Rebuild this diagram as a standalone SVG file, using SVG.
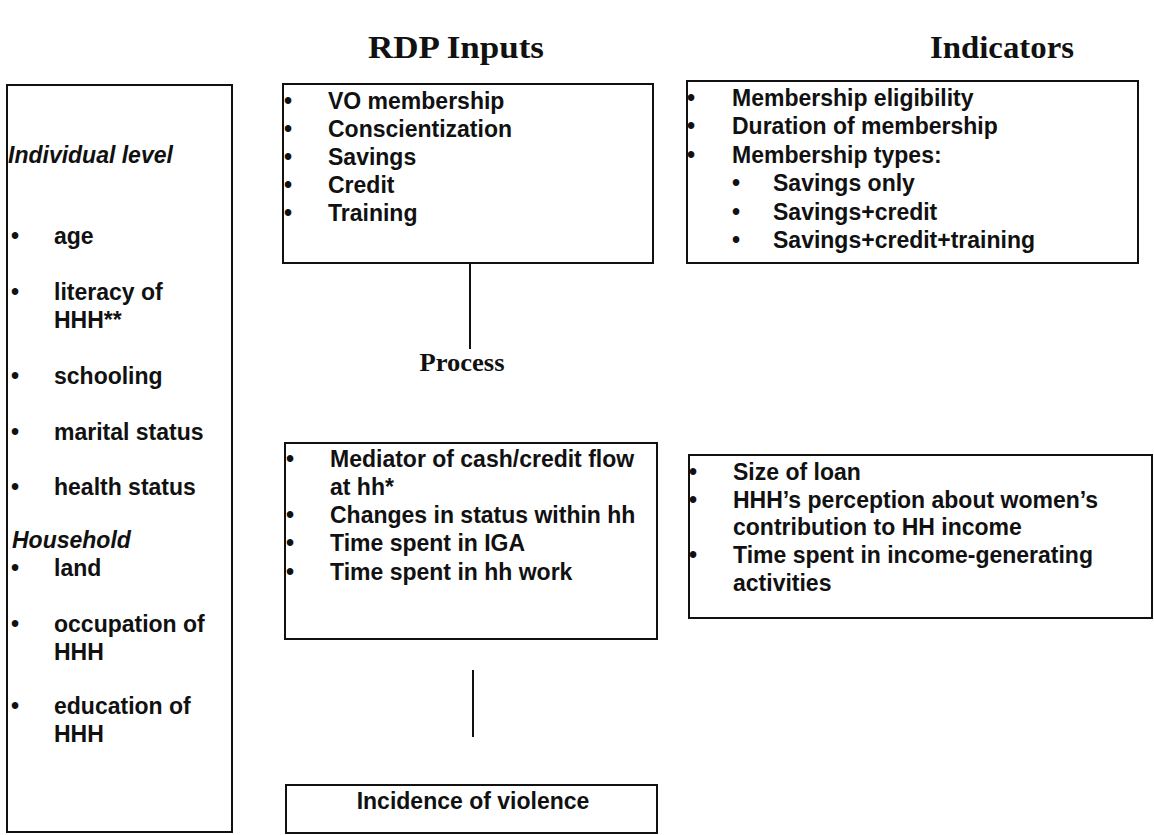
<svg xmlns="http://www.w3.org/2000/svg" width="1154" height="835" viewBox="0 0 1154 835">
<style>
.box{fill:#fff;stroke:#111;stroke-width:2}
.t{font-family:"Liberation Sans",Arial,sans-serif;font-weight:bold;font-size:23px;fill:#111}
.i{font-style:italic}
.title{font-family:"Liberation Serif","Times New Roman",serif;font-weight:bold;font-size:31px;fill:#111}
.proc{font-family:"Liberation Serif","Times New Roman",serif;font-weight:bold;font-size:25px;fill:#111}
.conn{stroke:#111;stroke-width:2;fill:none}
</style>
<rect width="1154" height="835" fill="#fff"/>
<g id="titles">
<text class="title" x="456" y="58" text-anchor="middle" textLength="176" lengthAdjust="spacingAndGlyphs">RDP  Inputs</text>
<text class="title" x="1002" y="58" text-anchor="middle" textLength="144" lengthAdjust="spacingAndGlyphs">Indicators</text>
</g>
<g id="connectors">
<line class="conn" x1="470" y1="264" x2="470" y2="349"/>
<line class="conn" x1="473" y1="670" x2="473" y2="737"/>
</g>
<g id="process-label">
<text class="proc" x="462" y="371" text-anchor="middle" textLength="85" lengthAdjust="spacingAndGlyphs">Process</text>
</g>
<g id="node-background">
<rect class="box" x="7" y="85" width="225" height="747"/>
<text class="t i" x="8" y="163">Individual level</text>
<text class="t" x="11" y="244">•</text><text class="t" x="54" y="244">age</text>
<text class="t" x="11" y="300">•</text><text class="t" x="54" y="300">literacy of</text>
<text class="t" x="54" y="328">HHH**</text>
<text class="t" x="11" y="384">•</text><text class="t" x="54" y="384">schooling</text>
<text class="t" x="11" y="440">•</text><text class="t" x="54" y="440">marital status</text>
<text class="t" x="11" y="495">•</text><text class="t" x="54" y="495">health status</text>
<text class="t i" x="12" y="548">Household</text>
<text class="t" x="11" y="576">•</text><text class="t" x="54" y="576">land</text>
<text class="t" x="11" y="632">•</text><text class="t" x="54" y="632">occupation of</text>
<text class="t" x="54" y="660">HHH</text>
<text class="t" x="11" y="714">•</text><text class="t" x="54" y="714">education of</text>
<text class="t" x="54" y="742">HHH</text>
</g>
<g id="node-inputs">
<rect class="box" x="283" y="84" width="370" height="179"/>
<text class="t" x="284" y="109">•</text><text class="t" x="328" y="109">VO membership</text>
<text class="t" x="284" y="137">•</text><text class="t" x="328" y="137">Conscientization</text>
<text class="t" x="284" y="165">•</text><text class="t" x="328" y="165">Savings</text>
<text class="t" x="284" y="193">•</text><text class="t" x="328" y="193">Credit</text>
<text class="t" x="284" y="221">•</text><text class="t" x="328" y="221">Training</text>
</g>
<g id="node-input-indicators">
<rect class="box" x="687" y="81" width="451" height="182"/>
<text class="t" x="687" y="106">•</text><text class="t" x="732" y="106">Membership eligibility</text>
<text class="t" x="687" y="134">•</text><text class="t" x="732" y="134">Duration of membership</text>
<text class="t" x="687" y="163">•</text><text class="t" x="732" y="163">Membership types:</text>
<text class="t" x="732" y="191">•</text><text class="t" x="773" y="191">Savings only</text>
<text class="t" x="732" y="220">•</text><text class="t" x="773" y="220">Savings+credit</text>
<text class="t" x="732" y="248">•</text><text class="t" x="773" y="248">Savings+credit+training</text>
</g>
<g id="node-process">
<rect class="box" x="285" y="443" width="372" height="196"/>
<text class="t" x="286" y="467">•</text><text class="t" x="330" y="467">Mediator of cash/credit flow</text>
<text class="t" x="330" y="495">at hh*</text>
<text class="t" x="286" y="523">•</text><text class="t" x="330" y="523">Changes in status within hh</text>
<text class="t" x="286" y="551">•</text><text class="t" x="330" y="551">Time spent in IGA</text>
<text class="t" x="286" y="580">•</text><text class="t" x="330" y="580">Time spent in hh work</text>
</g>
<g id="node-process-indicators">
<rect class="box" x="689" y="455" width="463" height="163"/>
<text class="t" x="689" y="480">•</text><text class="t" x="733" y="480">Size of loan</text>
<text class="t" x="689" y="508">•</text><text class="t" x="733" y="508">HHH’s perception about women’s</text>
<text class="t" x="733" y="535">contribution to HH income</text>
<text class="t" x="689" y="563">•</text><text class="t" x="733" y="563">Time spent in income-generating</text>
<text class="t" x="733" y="591">activities</text>
</g>
<g id="node-outcome">
<rect class="box" x="286" y="785" width="371" height="48"/>
<text class="t" x="473" y="809" text-anchor="middle">Incidence of violence</text>
</g>
</svg>
